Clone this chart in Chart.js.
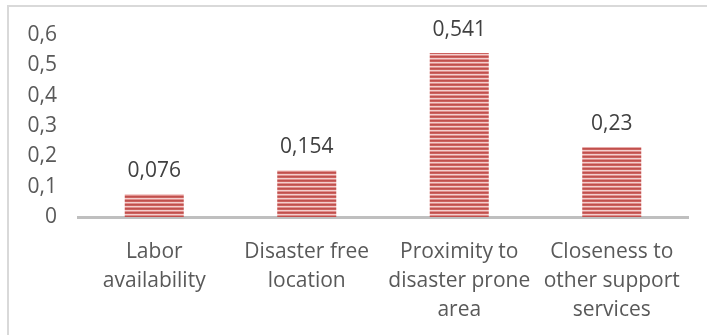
<!DOCTYPE html>
<html>
<head>
<meta charset="utf-8">
<script src="https://cdn.jsdelivr.net/npm/chart.js@4/dist/chart.umd.min.js"></script>
<style>
  html, body { margin: 0; padding: 0; background: #ffffff; }
  #wrap { position: relative; width: 707px; height: 335px; overflow: hidden; }
  #frame { position: absolute; left: 7px; top: 5px; width: 720px; height: 360px;
           border-left: 2px solid #d9d9d9; border-top: 2px solid #d9d9d9; box-sizing: border-box; }
  canvas { position: absolute; left: 0; top: 0; }
</style>
</head>
<body>
<div id="wrap">
  <div id="frame"></div>
  <canvas id="chart" width="707" height="335"></canvas>
</div>
<script>
// Factors and their weights
const categories = [
  ['Labor', 'availability'],
  ['Disaster free', 'location'],
  ['Proximity to', 'disaster prone', 'area'],
  ['Closeness to', 'other support', 'services']
];
const weights = [0.076, 0.154, 0.541, 0.23];
const yTicks = [0, 0.1, 0.2, 0.3, 0.4, 0.5, 0.6];

const TEXT = '#595959';
const FONT = '"Open Sans", "Liberation Sans", sans-serif';

// Horizontal red stripe fill
function stripeFill() {
  const c = document.createElement('canvas');
  c.width = 8; c.height = 4;
  const g = c.getContext('2d');
  const rows = ['#c0504d', '#cc625f', '#f3cfce', '#e08e8c'];
  rows.forEach((col, i) => { g.fillStyle = col; g.fillRect(0, i, 8, 1); });
  return document.getElementById('chart').getContext('2d').createPattern(c, 'repeat');
}

const fmt = v => String(v).replace('.', ',');

const valueLabels = {
  id: 'valueLabels',
  afterDatasetsDraw(chart) {
    const ctx = chart.ctx;
    const meta = chart.getDatasetMeta(0);
    ctx.save();
    ctx.font = '21px ' + FONT;
    ctx.fillStyle = '#404040';
    ctx.textAlign = 'center';
    ctx.textBaseline = 'alphabetic';
    meta.data.forEach((bar, i) => {
      ctx.fillText(fmt(weights[i]), bar.x, bar.y - 17);
    });
    ctx.restore();
  }
};

new Chart(document.getElementById('chart'), {
  type: 'bar',
  data: {
    labels: categories,
    datasets: [{
      data: weights,
      backgroundColor: stripeFill(),
      borderWidth: 0,
      categoryPercentage: 1,
      barPercentage: 0.387
    }]
  },
  options: {
    responsive: false,
    animation: false,
    layout: { padding: { top: 35, right: 19, left: 0, bottom: 0 } },
    plugins: { legend: { display: false }, tooltip: { enabled: false } },
    scales: {
      x: {
        grid: { display: false },
        border: { display: true, color: '#bfbfbf', width: 3 },
        ticks: {
          color: TEXT,
          font: { family: FONT, size: 21, lineHeight: 1.38 },
          padding: 13,
          maxRotation: 0,
          autoSkip: false
        },
        afterFit(scale) { scale.height = 118; }
      },
      y: {
        min: 0,
        max: 0.6,
        grid: { display: false },
        border: { display: false },
        afterBuildTicks(scale) { scale.ticks = yTicks.map(v => ({ value: v })); },
        afterFit(scale) { scale.width = 78; },
        ticks: {
          color: TEXT,
          font: { family: FONT, size: 21 },
          padding: 13,
          callback: v => fmt(Math.round(v * 10) / 10)
        }
      }
    }
  },
  plugins: [valueLabels]
});
</script>
</body>
</html>
